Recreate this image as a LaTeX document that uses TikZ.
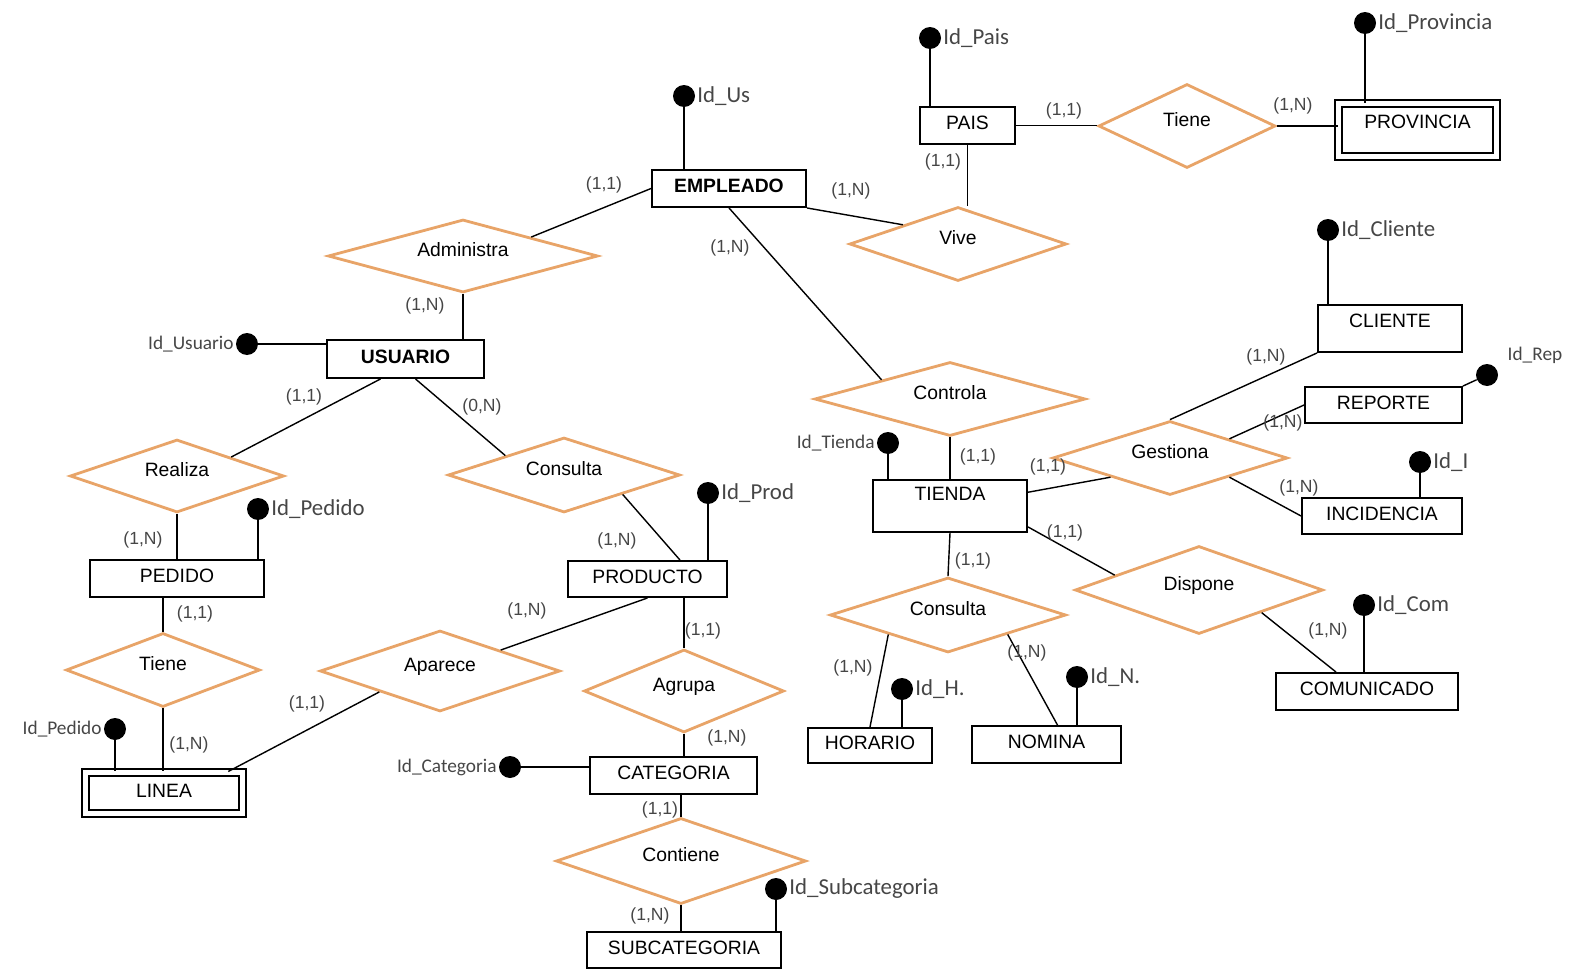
\documentclass[tikz,border=0pt]{standalone}
\usepackage{fontspec}
\setmainfont{Liberation Sans}
\newfontfamily\idfont{Carlito}
\usetikzlibrary{shapes.geometric, positioning}
\definecolor{relorange}{RGB}{232,164,104}
\definecolor{cardgray}{RGB}{70,70,70}

\begin{document}
\begin{tikzpicture}[x=0.02cm, y=-0.02cm,
  ent/.style={draw, line width=1.1pt, inner sep=2pt, minimum height=0.74cm, text height=8pt, text depth=3pt, font=\fontsize{11}{13}\selectfont},
  entb/.style={ent, font=\bfseries\fontsize{11}{13}\selectfont},
  wkent/.style={ent, double, double distance=3.1pt, line width=0.9pt},
  rel/.style={diamond, draw=relorange, line width=1.6pt, aspect=3, inner sep=0pt, text height=8pt, text depth=7pt, font=\fontsize{11}{13}\selectfont},
  kdot/.style={circle, fill, inner sep=0pt, minimum size=0.44cm},
  idl/.style={inner sep=1pt, text=cardgray, font=\idfont\fontsize{13}{15}\selectfont},
  idls/.style={idl, font=\idfont\fontsize{11}{13}\selectfont},
  card/.style={inner sep=0pt, text=cardgray, font=\fontsize{10}{12}\selectfont},
  lnk/.style={line width=0.8pt}
]
  \useasboundingbox (0,0) rectangle (1570,970);

  % entidades
  \node[entb, minimum width=3.08cm] (empleado) at (729,188.5) {EMPLEADO};
  \node[ent, minimum width=1.9cm] (pais) at (967.5,125.5) {PAIS};
  \node[wkent, minimum width=3.16cm, minimum height=1.06cm, text depth=9.6pt] (provincia) at (1417.5,130) {PROVINCIA};
  \node[ent, minimum width=2.88cm, minimum height=0.94cm, text depth=9.6pt] (cliente) at (1390,328.5) {CLIENTE};
  \node[ent, minimum width=3.14cm, minimum height=0.72cm] (reporte) at (1383.5,405) {REPORTE};
  \node[ent, minimum width=3.2cm, minimum height=0.72cm] (incidencia) at (1382,516) {INCIDENCIA};
  \node[ent, minimum width=3.08cm, minimum height=1.04cm, text depth=14.5pt] (tienda) at (950,506) {TIENDA};
  \node[entb, minimum width=3.14cm, minimum height=0.76cm] (usuario) at (405.5,359) {USUARIO};
  \node[ent, minimum width=3.48cm] (pedido) at (177,578.5) {PEDIDO};
  \node[ent, minimum width=3.18cm, minimum height=0.72cm] (producto) at (647.5,579) {PRODUCTO};
  \node[wkent, minimum width=3.14cm, minimum height=0.83cm] (linea) at (164,793) {LINEA};
  \node[ent, minimum width=3.34cm] (categoria) at (673.5,775.5) {CATEGORIA};
  \node[ent, minimum width=3.88cm, minimum height=0.72cm] (subcategoria) at (684,950) {SUBCATEGORIA};
  \node[ent, minimum width=2.48cm, minimum height=0.7cm] (horario) at (870,745.5) {HORARIO};
  \node[ent, minimum width=2.98cm] (nomina) at (1046.5,744.5) {NOMINA};
  \node[ent, minimum width=3.64cm] (comunicado) at (1367,691.5) {COMUNICADO};

  % relaciones
  \node[rel, minimum width=5.4cm, minimum height=1.46cm] (administra) at (463,256) {Administra};
  \node[rel, minimum width=4.34cm, minimum height=1.48cm] (vive) at (958,244) {Vive};
  \node[rel, minimum width=3.54cm, minimum height=1.68cm] (tienepais) at (1187,126) {Tiene};
  \node[rel, minimum width=5.42cm, minimum height=1.48cm] (controla) at (950,399) {Controla};
  \node[rel, minimum width=4.7cm, minimum height=1.48cm] (gestiona) at (1170,458) {Gestiona};
  \node[rel, minimum width=4.96cm, minimum height=1.76cm] (dispone) at (1199,590) {Dispone};
  \node[rel, minimum width=4.72cm, minimum height=1.5cm] (consultatienda) at (948,615) {Consulta};
  \node[rel, minimum width=4.28cm, minimum height=1.46cm] (realiza) at (177,476) {Realiza};
  \node[rel, minimum width=4.64cm, minimum height=1.5cm] (consultausuario) at (564,475) {Consulta};
  \node[rel, minimum width=3.88cm, minimum height=1.48cm] (tienepedido) at (163,670) {Tiene};
  \node[rel, minimum width=4.8cm, minimum height=1.62cm] (aparece) at (440,671) {Aparece};
  \node[rel, minimum width=4.0cm, minimum height=1.66cm] (agrupa) at (684,691) {Agrupa};
  \node[rel, minimum width=5.0cm, minimum height=1.72cm] (contiene) at (681,861) {Contiene};

  % enlaces
  \draw[lnk] (empleado.west) -- (administra.north east);
  \draw[lnk] (administra.south) -- (administra.south |- usuario.north);
  \draw[lnk] (empleado.south east) -- (vive.north west);
  \draw[lnk] (pais.south) -- (pais.south |- vive.north);
  \draw[lnk] (pais.east) -- (pais.east -| tienepais.west);
  \draw[lnk] (tienepais.east) -- (tienepais.east -| provincia.west);
  \draw[lnk] (empleado.south) -- (controla.north west);
  \draw[lnk] (controla.south) -- (tienda.north);
  \draw[lnk] (tienda.10) -- (gestiona.south west);
  \draw[lnk] (gestiona.north) -- (cliente.south west);
  \draw[lnk] (gestiona.north east) -- (reporte.west);
  \draw[lnk] (gestiona.south east) -- (incidencia.west);
  \draw[lnk] (tienda.-15) -- (dispone.170);
  \draw[lnk] (dispone.south east) -- ([xshift=-0.62cm]comunicado.north);
  \draw[lnk] (tienda.south) -- (consultatienda.north);
  \draw[lnk] (consultatienda.south west) -- (horario.north);
  \draw[lnk] (consultatienda.south east) -- ([xshift=0.22cm]nomina.north);
  \draw[lnk] ([xshift=-0.5cm]usuario.south) -- (realiza.north east);
  \draw[lnk] ([xshift=0.2cm]usuario.south) -- (consultausuario.north west);
  \draw[lnk] (realiza.south) -- (realiza.south |- pedido.north);
  \draw[lnk] (tienepedido.north |- pedido.south) -- (tienepedido.north);
  \draw[lnk] (tienepedido.south) -- (tienepedido.south |- linea.north);
  \draw[lnk] (consultausuario.south east) -- ([xshift=0.65cm]producto.north);
  \draw[lnk] (producto.south) -- (aparece.north east);
  \draw[lnk] (aparece.south west) -- ([xshift=-0.3cm]linea.north east);
  \draw[lnk] (agrupa.north |- producto.south) -- (agrupa.north);
  \draw[lnk] (agrupa.south) -- (agrupa.south |- categoria.north);
  \draw[lnk] (contiene.north |- categoria.south) -- (contiene.north);
  \draw[lnk] (contiene.south) -- (contiene.south |- subcategoria.north);

  % claves
  \node[kdot] (kus) at (684,96) {};
  \node[idl, right=0pt of kus] (lus) {Id\_Us};
  \draw[lnk] (kus) -- (kus |- empleado.north);
  \node[kdot] (kpais) at (930,38) {};
  \node[idl, right=0pt of kpais] (lpais) {Id\_Pais};
  \draw[lnk] (kpais) -- (kpais |- pais.north);
  \node[kdot] (kprov) at (1365,23) {};
  \node[idl, right=0pt of kprov] (lprov) {Id\_Provincia};
  \draw[lnk] (kprov) -- (kprov |- provincia.north);
  \node[kdot] (kcli) at (1328,230) {};
  \node[idl, right=0pt of kcli] (lcli) {Id\_Cliente};
  \draw[lnk] (kcli) -- (kcli |- cliente.north);
  \node[kdot] (krep) at (1487,375) {};
  \node[idls] (lrep) at (1535,355) {Id\_Rep};
  \draw[lnk] (krep) -- (reporte.north east);
  \node[kdot] (kinc) at (1420,462) {};
  \node[idl, right=0pt of kinc] (linc) {Id\_I};
  \draw[lnk] (kinc) -- (kinc |- incidencia.north);
  \node[kdot] (kcom) at (1364,605) {};
  \node[idl, right=0pt of kcom] (lcom) {Id\_Com};
  \draw[lnk] (kcom) -- (kcom |- comunicado.north);
  \node[kdot] (knom) at (1077,677) {};
  \node[idl, right=0pt of knom] (lnom) {Id\_N.};
  \draw[lnk] (knom) -- (knom |- nomina.north);
  \node[kdot] (khor) at (902,689) {};
  \node[idl, right=0pt of khor] (lhor) {Id\_H.};
  \draw[lnk] (khor) -- (khor |- horario.north);
  \node[kdot] (ktienda) at (888,443) {};
  \node[idls, left=0pt of ktienda] (ltienda) {Id\_Tienda};
  \draw[lnk] (ktienda) -- (ktienda |- tienda.north);
  \node[kdot] (kprod) at (708,493) {};
  \node[idl, right=0pt of kprod] (lprod) {Id\_Prod};
  \draw[lnk] (kprod) -- (kprod |- producto.north);
  \node[kdot] (kped) at (258,509) {};
  \node[idl, right=0pt of kped] (lped) {Id\_Pedido};
  \draw[lnk] (kped) -- (kped |- pedido.north);
  \node[kdot] (kusr) at (247,344) {};
  \node[idls, left=0pt of kusr] (lusr) {Id\_Usuario};
  \draw[lnk] (kusr) -- (kusr -| usuario.west);
  \node[kdot] (kpedlin) at (115,729) {};
  \node[idls, left=0pt of kpedlin] (lpedlin) {Id\_Pedido};
  \draw[lnk] (kpedlin) -- (kpedlin |- linea.north);
  \node[kdot] (kcat) at (510,767) {};
  \node[idls, left=0pt of kcat] (lcat) {Id\_Categoria};
  \draw[lnk] (kcat) -- (kcat -| categoria.west);
  \node[kdot] (ksub) at (776,889) {};
  \node[idl, right=0pt of ksub] (lsub) {Id\_Subcategoria};
  \draw[lnk] (ksub) -- (ksub |- subcategoria.north);

  % cardinalidades
  \node[card] (cEmpAdm) at (604,185) {(1,1)};
  \node[card] (cUsrAdm) at (425,306) {(1,N)};
  \node[card] (cEmpViv) at (851,191) {(1,N)};
  \node[card] (cPaiViv) at (943,162) {(1,1)};
  \node[card] (cPaiTie) at (1064,111) {(1,1)};
  \node[card] (cProTie) at (1293,106) {(1,N)};
  \node[card] (cEmpCon) at (730,248) {(1,N)};
  \node[card] (cTieCon) at (978,457) {(1,1)};
  \node[card] (cTieGes) at (1048,467) {(1,1)};
  \node[card] (cCliGes) at (1266,357) {(1,N)};
  \node[card] (cRepGes) at (1283,423) {(1,N)};
  \node[card] (cIncGes) at (1299,488) {(1,N)};
  \node[card] (cTieDis) at (1065,533) {(1,1)};
  \node[card] (cComDis) at (1328,631) {(1,N)};
  \node[card] (cTieCns) at (973,561) {(1,1)};
  \node[card] (cHorCns) at (853,668) {(1,N)};
  \node[card] (cNomCns) at (1027,653) {(1,N)};
  \node[card] (cUsrRea) at (304,397) {(1,1)};
  \node[card] (cUsrCns) at (482,407) {(0,N)};
  \node[card] (cPedRea) at (143,540) {(1,N)};
  \node[card] (cPedTie) at (195,614) {(1,1)};
  \node[card] (cLinTie) at (189,745) {(1,N)};
  \node[card] (cProCns) at (617,541) {(1,N)};
  \node[card] (cProApa) at (527,611) {(1,N)};
  \node[card] (cLinApa) at (307,704) {(1,1)};
  \node[card] (cProAgr) at (703,631) {(1,1)};
  \node[card] (cCatAgr) at (727,738) {(1,N)};
  \node[card] (cCatCon) at (660,810) {(1,1)};
  \node[card] (cSubCon) at (650,916) {(1,N)};
\end{tikzpicture}
\end{document}
